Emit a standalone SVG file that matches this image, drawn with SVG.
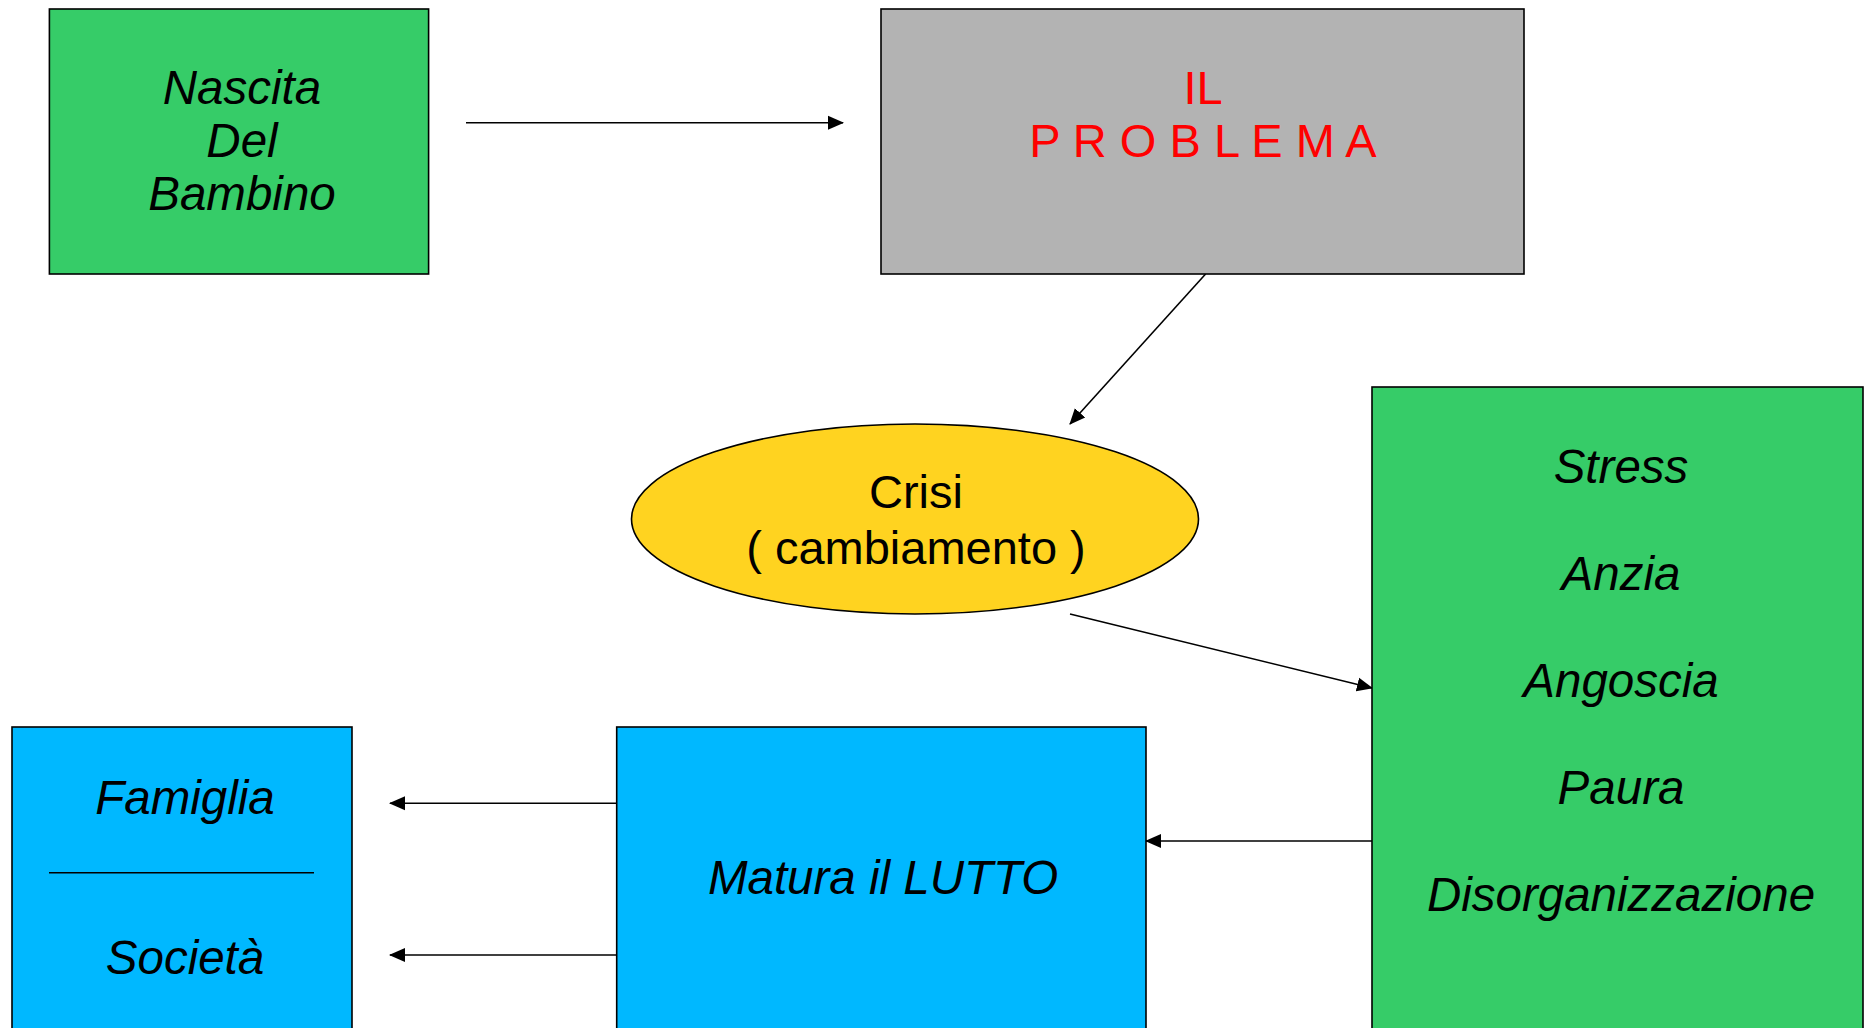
<svg xmlns="http://www.w3.org/2000/svg" width="1866" height="1028" viewBox="0 0 1866 1028">
<style>
.box{stroke:#000;stroke-width:1.6}
.t{font-family:"Liberation Sans",Arial,sans-serif;font-size:47px;text-anchor:middle;fill:#000}
.i{font-style:italic;font-size:47.5px}
.r{fill:#FF0000}
.c{stroke:#000;stroke-width:1.6;fill:none;marker-end:url(#ah)}
</style>
<defs>
<marker id="ah" markerUnits="userSpaceOnUse" markerWidth="16" markerHeight="16" viewBox="0 0 16 14" refX="15" refY="7" orient="auto">
<path d="M0,0 L16,7 L0,14 Z" fill="#000"/>
</marker>
</defs>
<rect width="1866" height="1028" fill="#fff"/>
<g id="connectors">
<line class="c" x1="466" y1="122.7" x2="843" y2="122.7"/>
<line class="c" x1="1205.6" y1="274" x2="1070" y2="424"/>
<line class="c" x1="1070" y1="614" x2="1372" y2="688"/>
<line class="c" x1="1372" y1="841" x2="1146" y2="841"/>
<line class="c" x1="616" y1="803.3" x2="390" y2="803.3"/>
<line class="c" x1="616" y1="955" x2="390" y2="955"/>
</g>
<g id="nascita">
<rect class="box" x="49.4" y="9" width="379.2" height="265" fill="#36CC68"/>
<text class="t i" x="242" y="104">Nascita</text>
<text class="t i" x="242" y="156.7">Del</text>
<text class="t i" x="242" y="210">Bambino</text>
</g>
<g id="problema">
<rect class="box" x="881" y="9" width="643" height="265" fill="#B3B3B3"/>
<text class="t r" x="1203" y="104">IL</text>
<text class="t r" x="1203" y="156.7">P R O B L E M A</text>
</g>
<g id="crisi">
<ellipse class="box" cx="915" cy="519" rx="283.5" ry="95" fill="#FFD320"/>
<text class="t" x="916" y="508">Crisi</text>
<text class="t" x="916" y="564">( cambiamento )</text>
</g>
<g id="stress">
<rect class="box" x="1372" y="387" width="491" height="660" fill="#36CC68"/>
<text class="t i" x="1621" y="483">Stress</text>
<text class="t i" x="1621" y="590">Anzia</text>
<text class="t i" x="1621" y="697">Angoscia</text>
<text class="t i" x="1621" y="804">Paura</text>
<text class="t i" x="1621" y="911">Disorganizzazione</text>
</g>
<g id="lutto">
<rect class="box" x="616.7" y="727" width="529.3" height="320" fill="#00B8FF"/>
<text class="t i" x="883" y="894">Matura il LUTTO</text>
</g>
<g id="famiglia">
<rect class="box" x="12" y="727" width="340" height="320" fill="#00B8FF"/>
<text class="t i" x="185" y="814">Famiglia</text>
<line x1="49" y1="872.7" x2="314" y2="872.7" stroke="#000" stroke-width="1.6"/>
<text class="t i" x="185" y="974">Società</text>
</g>
</svg>
